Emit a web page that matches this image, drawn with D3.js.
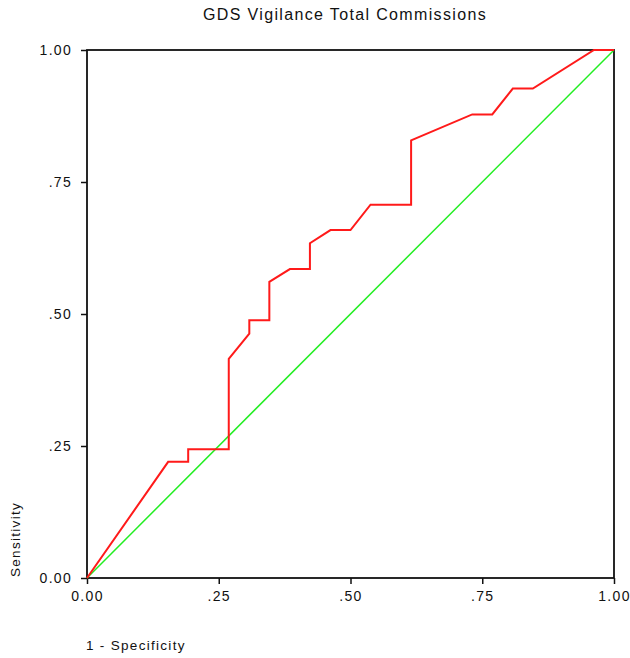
<!DOCTYPE html>
<html>
<head>
<meta charset="utf-8">
<script src="https://cdn.jsdelivr.net/npm/d3@7"></script>
<style>
  html, body { margin: 0; padding: 0; background: #fff; }
  svg { display: block; }
  text { font-family: "Liberation Sans", Arial, sans-serif; fill: #111; }
</style>
</head>
<body>
<svg id="chart" width="630" height="658"></svg>
<script>
// ROC curve points (1 - Specificity, Sensitivity)
const rocX = [0, 0.154, 0.192, 0.192, 0.269, 0.269, 0.308, 0.308, 0.346, 0.346, 0.385, 0.423, 0.423, 0.462, 0.500, 0.538, 0.615, 0.615, 0.731, 0.769, 0.808, 0.846, 0.962, 1.0];
const rocY = [0, 0.220, 0.220, 0.244, 0.244, 0.415, 0.463, 0.488, 0.488, 0.561, 0.585, 0.585, 0.634, 0.659, 0.659, 0.707, 0.707, 0.829, 0.878, 0.878, 0.927, 0.927, 1.0, 1.0];
// Reference diagonal
const refX = [0, 1];
const refY = [0, 1];
// Tick values and labels
const tickValues = [0, 0.25, 0.5, 0.75, 1];
const tickLabels = ["0.00", ".25", ".50", ".75", "1.00"];
const titleText = "GDS Vigilance Total Commissions";
const xLabel = "1 - Specificity";
const yLabel = "Sensitivity";

const svg = d3.select("#chart");
const plotL = 87, plotR = 614, plotT = 50, plotB = 578;

const x = d3.scaleLinear().domain([0, 1]).range([plotL, plotR]);
const y = d3.scaleLinear().domain([0, 1]).range([plotB, plotT]);

// Title
svg.append("text")
  .attr("x", 345).attr("y", 20)
  .attr("text-anchor", "middle")
  .style("font-size", "16px")
  .style("letter-spacing", "1.35px")
  .text(titleText);

// Frame
svg.append("rect")
  .attr("x", plotL).attr("y", plotT)
  .attr("width", plotR - plotL).attr("height", plotB - plotT)
  .attr("fill", "none")
  .attr("stroke", "#111")
  .attr("stroke-width", 1.8);

const fmt = v => tickLabels[tickValues.indexOf(v)];

// Y axis
const yAxis = svg.append("g")
  .attr("transform", `translate(${plotL},0)`)
  .call(d3.axisLeft(y).tickValues(tickValues).tickFormat(fmt).tickSize(6).tickPadding(9));
yAxis.select(".domain").remove();
yAxis.selectAll(".tick line").attr("stroke", "#111").attr("stroke-width", 1.5);
yAxis.selectAll("text")
  .style("font-size", "14px")
  .style("letter-spacing", "1.3px")
  .attr("fill", "#111");
yAxis.attr("font-family", null).attr("font-size", null);

// X axis
const xAxis = svg.append("g")
  .attr("transform", `translate(0,${plotB})`)
  .call(d3.axisBottom(x).tickValues(tickValues).tickFormat(fmt).tickSize(6).tickPadding(7));
xAxis.select(".domain").remove();
xAxis.selectAll(".tick line").attr("stroke", "#111").attr("stroke-width", 1.5);
xAxis.selectAll("text")
  .style("font-size", "14px")
  .style("letter-spacing", "1.3px")
  .attr("fill", "#111");
xAxis.attr("font-family", null).attr("font-size", null);

// Diagonal reference line
svg.append("path")
  .datum(refX.map((d, i) => [d, refY[i]]))
  .attr("fill", "none")
  .attr("stroke", "#22ee22")
  .attr("stroke-width", 1.5)
  .attr("d", d3.line().x(d => x(d[0])).y(d => y(d[1])));

// ROC curve
svg.append("path")
  .datum(rocX.map((d, i) => [d, rocY[i]]))
  .attr("fill", "none")
  .attr("stroke", "#ff1a1a")
  .attr("stroke-width", 2)
  .attr("stroke-linejoin", "miter")
  .attr("d", d3.line().x(d => x(d[0])).y(d => y(d[1])));

// Axis labels
svg.append("text")
  .attr("x", 86).attr("y", 650)
  .style("font-size", "13.5px")
  .style("letter-spacing", "1.3px")
  .text(xLabel);

svg.append("text")
  .attr("transform", "translate(20,577) rotate(-90)")
  .attr("text-anchor", "start")
  .style("font-size", "13.5px")
  .style("letter-spacing", "1.3px")
  .text(yLabel);
</script>
</body>
</html>
